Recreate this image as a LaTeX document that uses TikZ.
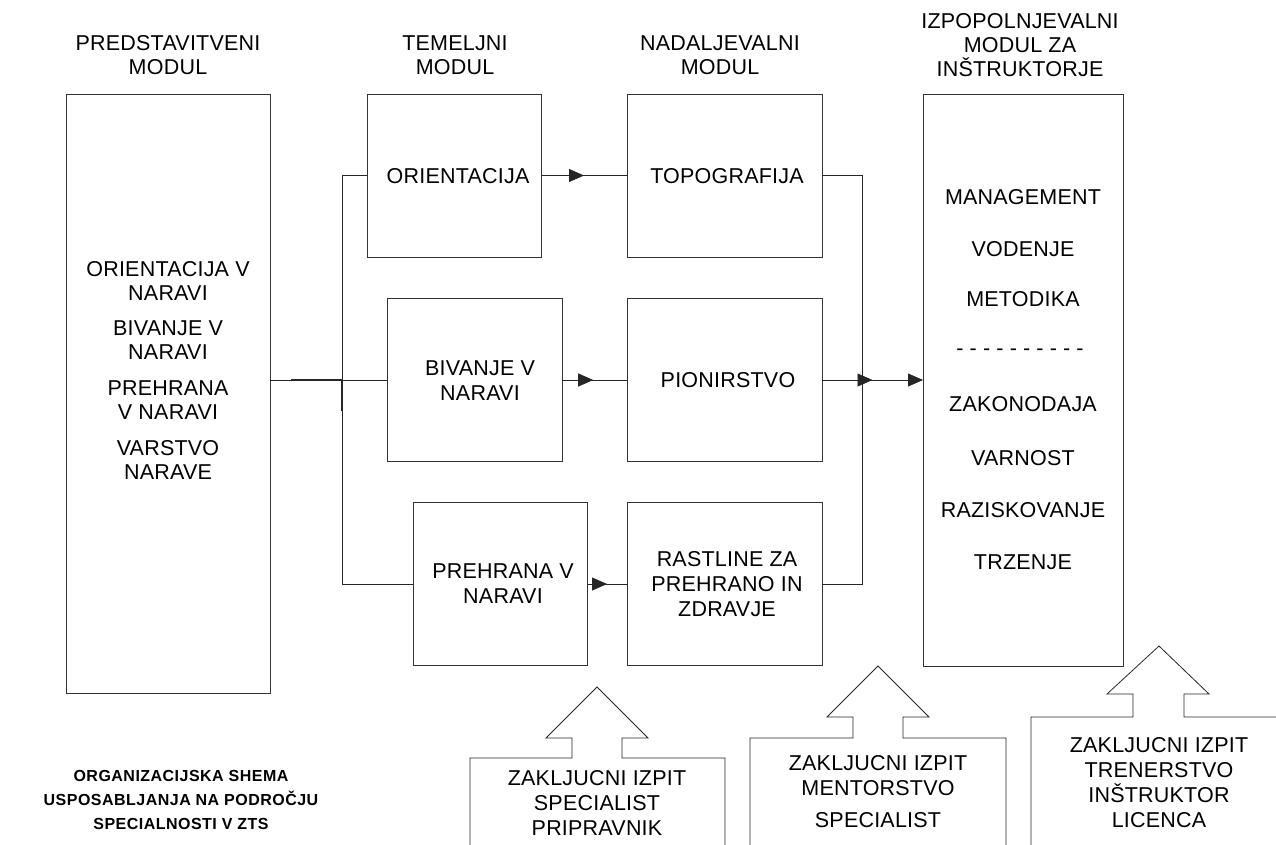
\documentclass[tikz,border=0pt]{standalone}
\usepackage{fontspec}
\setmainfont{Liberation Sans}[LetterSpace=1]
\newfontfamily\capfont{Liberation Sans}[LetterSpace=3]
\usetikzlibrary{arrows.meta,decorations.markings}
\begin{document}
\begin{tikzpicture}[x=1pt,y=-1pt,
  every node/.style={inner sep=0pt, outer sep=0pt},
  box/.style={draw=black!80, line width=0.8pt, rectangle, fill=none},
  txt/.style={font=\fontsize{21.5}{25}\selectfont, align=center},
  txtl/.style={font=\fontsize{21.5}{24}\selectfont, align=center},
  captiontxt/.style={font=\capfont\bfseries\fontsize{16}{24}\selectfont, align=center},
  conn/.style={draw=black!85, line width=0.8pt},
  midarrow/.style={postaction={decorate, decoration={markings,
     mark=at position #1 with {\arrow{Triangle[length=15pt,width=13pt]}}}}},
  endarrow/.style={-{Triangle[length=15pt,width=13pt]}},
  callout/.style={draw=black!85, line width=0.8pt, fill=white}
]
\clip (0,0) rectangle (1276,844);
\fill[white] (0,0) rectangle (1276,844);

% headers
\node[txtl] (h1) at (168,55) {PREDSTAVITVENI\\MODUL};
\node[txtl] (h2) at (455,55) {TEMELJNI\\MODUL};
\node[txtl] (h3) at (720,55) {NADALJEVALNI\\MODUL};
\node[txtl] (h4) at (1020,45) {IZPOPOLNJEVALNI\\MODUL ZA\\INŠTRUKTORJE};

% boxes
\node[box, minimum width=204pt, minimum height=599pt] (pred) at (168,393.5) {};
\node[box, minimum width=174pt, minimum height=163pt] (orient) at (454,175.5) {};
\node[box, minimum width=195pt, minimum height=163pt] (topo) at (724.5,175.5) {};
\node[box, minimum width=175pt, minimum height=163pt] (biv) at (474.5,380) {};
\node[box, minimum width=195pt, minimum height=163pt] (pion) at (724.5,380) {};
\node[box, minimum width=174pt, minimum height=163pt] (preh) at (500,584) {};
\node[box, minimum width=195pt, minimum height=163pt] (rast) at (724.5,584) {};
\node[box, minimum width=200pt, minimum height=572pt] (izp) at (1023,380) {};

% texts in left box
\node[txtl] (p1) at (168,281) {ORIENTACIJA V\\NARAVI};
\node[txtl] (p2) at (168,340.5) {BIVANJE V\\NARAVI};
\node[txtl] (p3) at (168,400) {PREHRANA\\V NARAVI};
\node[txtl] (p4) at (168,460) {VARSTVO\\NARAVE};

% texts in module boxes
\node[txt] (t1) at (458,176) {ORIENTACIJA};
\node[txt] (t2) at (727,176) {TOPOGRAFIJA};
\node[txt] (t3) at (480,381) {BIVANJE V\\NARAVI};
\node[txt] (t4) at (728,380) {PIONIRSTVO};
\node[txt] (t5) at (503,584) {PREHRANA V\\NARAVI};
\node[txt] (t6) at (727,584) {RASTLINE ZA\\PREHRANO IN\\ZDRAVJE};

% texts in right box
\node[txt] (r1) at (1023,197) {MANAGEMENT};
\node[txt] (r2) at (1023,249) {VODENJE};
\node[txt] (r3) at (1023,299) {METODIKA};
\node[txt] (r4) at (1020,352) {- - - - - - - - - -};
\node[txt] (r5) at (1023,404) {ZAKONODAJA};
\node[txt] (r6) at (1023,458) {VARNOST};
\node[txt] (r7) at (1023,510) {RAZISKOVANJE};
\node[txt] (r8) at (1023,562) {TRZENJE};

% connectors
\coordinate (lx) at (342,0);
\coordinate (rx) at (862,0);
\draw[conn] (pred.east |- biv.west) -- (biv.west);
\draw[conn] (orient.west) -- (orient.west -| lx) -- (preh.west -| lx) -- (preh.west);
\coordinate (k1) at (291,380);
\coordinate (k2) at (342,380);
\coordinate (k3) at (342,411);
\draw[conn, line width=1.3pt] (k1) -- (k2) -- (k3);
\draw[conn, midarrow=0.5] (orient.east) -- (topo.west);
\draw[conn, midarrow=0.48] (biv.east) -- (pion.west);
\draw[conn, midarrow=0.5] (preh.east) -- (rast.west);
\draw[conn] (topo.east) -- (topo.east -| rx) -- (rast.east -| rx) -- (rast.east);
\draw[conn, midarrow=0.5, endarrow] (pion.east) -- (izp.west);

% bottom callouts
\draw[callout] (470,850) -- (470,758) -- (572,758) -- (572,738) -- (546,738) -- (597,687)
  -- (648,738) -- (622,738) -- (622,758) -- (725,758) -- (725,850);
\draw[callout] (750,850) -- (750,738) -- (853,738) -- (853,717) -- (827,717) -- (878,666)
  -- (929,717) -- (903,717) -- (903,738) -- (1006,738) -- (1006,850);
\draw[callout] (1031,850) -- (1031,717) -- (1133,717) -- (1133,694) -- (1107,694) -- (1159,646)
  -- (1209,694) -- (1184,694) -- (1184,717) -- (1290,717);

\node[txt] (c1) at (597,803) {ZAKLJUCNI IZPIT\\SPECIALIST\\PRIPRAVNIK};
\node[txt] (c2) at (878,776) {ZAKLJUCNI IZPIT\\MENTORSTVO};
\node[txt] (c2b) at (878,820) {SPECIALIST};
\node[txt] (c3) at (1159,783) {ZAKLJUCNI IZPIT\\TRENERSTVO\\INŠTRUKTOR\\LICENCA};

% caption
\node[captiontxt] (captxt) at (181,800) {ORGANIZACIJSKA SHEMA\\USPOSABLJANJA NA PODROČJU\\SPECIALNOSTI V ZTS};
\end{tikzpicture}
\end{document}
